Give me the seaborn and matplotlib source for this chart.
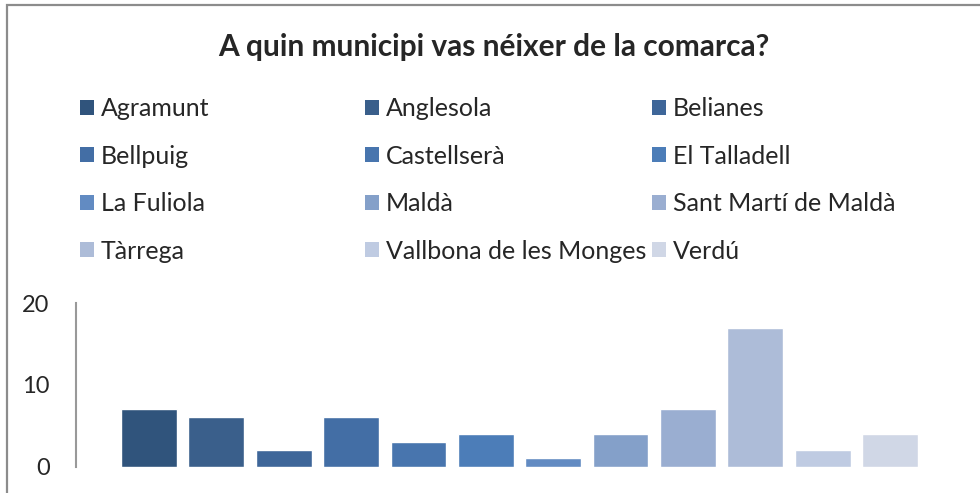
import matplotlib
matplotlib.use("Agg")
import matplotlib.pyplot as plt
import seaborn as sns
import pandas as pd

# chart data
municipis = ['Agramunt', 'Anglesola', 'Belianes', 'Bellpuig', 'Castellserà', 'El Talladell',
             'La Fuliola', 'Maldà', 'Sant Martí de Maldà', 'Tàrrega', 'Vallbona de les Monges', 'Verdú']
respostes = [7, 6, 2, 6, 3, 4, 1, 4, 7, 17, 2, 4]
colors = ['#30547c', '#3a5f8b', '#3e6699', '#436ea5', '#4875ae', '#4c7db8',
          '#628bc2', '#84a0c9', '#9aaed1', '#adbcd8', '#bfcbe2', '#d0d7e6']
y_ticks = [0, 10, 20]
title = 'A quin municipi vas néixer de la comarca?'

df = pd.DataFrame({'Municipi': municipis, 'Respostes': respostes})

sns.set_style("white")
plt.rcParams['font.family'] = ['Lato', 'DejaVu Sans']

W, H = 980, 493
fig = plt.figure(figsize=(W / 100, H / 100), dpi=100)

# chart area border
border = plt.Rectangle((6.5 / W, -0.1), 1.2, 1.1 - 5.5 / H, transform=fig.transFigure,
                       fill=False, edgecolor='#8c8c8c', linewidth=1.6)
fig.patches.append(border)

ax = fig.add_axes([76 / W, 1 - 466.5 / H, (963 - 76) / W, (466.5 - 303) / H])
sns.barplot(data=df, x='Municipi', y='Respostes', hue='Municipi', palette=colors,
            width=0.83, dodge=False, legend=False, ax=ax, saturation=1)

ax.set_xlim(-1.084, 11 + 1.084)
ax.set_ylim(0, 20)
ax.set_yticks(y_ticks)
ax.set_yticklabels([str(t) for t in y_ticks], fontsize=17)
ax.tick_params(axis='y', length=0, pad=19)
ax.set_xticks([])
ax.set_xlabel('')
ax.set_ylabel('')

# only the left axis line
for side in ['top', 'right', 'bottom']:
    ax.spines[side].set_visible(False)
ax.spines['left'].set_color('#999999')
ax.spines['left'].set_linewidth(1.5)

# title
fig.text(494 / W, 1 - 47 / H, title, ha='center', va='center', fontsize=21.5, fontweight='bold')

# legend in 3 fixed columns (row-major like the original)
handles = [plt.Rectangle((0, 0), 1, 1, facecolor=c, edgecolor='none') for c in colors]
col_x = [80, 365, 652]
for col in range(3):
    idx = list(range(col, len(municipis), 3))
    leg = fig.legend([handles[i] for i in idx], [municipis[i] for i in idx],
                     loc='upper left', bbox_to_anchor=(col_x[col] / W, 1 - 97 / H),
                     frameon=False, fontsize=18, handlelength=0.56, handleheight=0.56,
                     handletextpad=0.28, labelspacing=0.98, borderpad=0, borderaxespad=0)

fig.savefig('out.png', dpi=100)
